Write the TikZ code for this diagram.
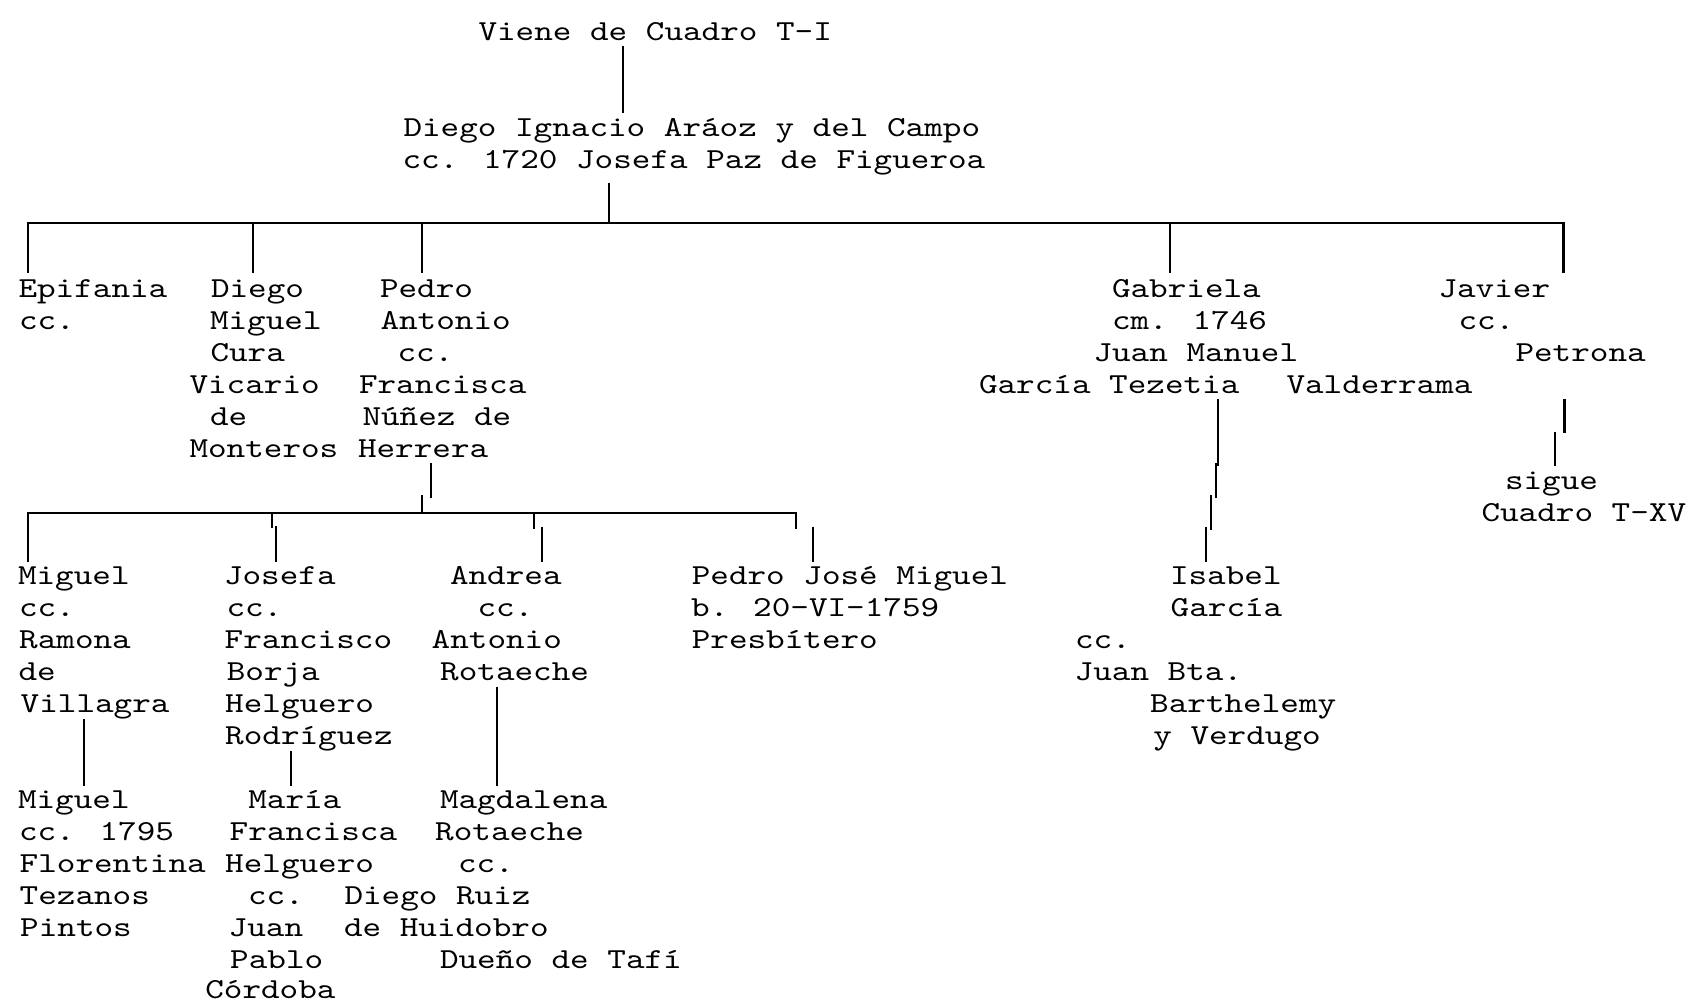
\documentclass[tikz,border=0pt]{standalone}
\usepackage{fontspec}
\newfontfamily\courfont[Extension=.otf, FakeStretch=1.2217]{lmmono10-regular}
\tikzset{
  lbl/.style={anchor=base west, inner sep=0pt, outer sep=0pt, font=\courfont\fontsize{29}{32}\selectfont},
  ln/.style={line width=2.3pt, line cap=butt, line join=miter}
}
\begin{document}
\begin{tikzpicture}[x=1pt,y=-1pt]
\fill[white] (0,0) rectangle (1693,1003);
\useasboundingbox (0,0) rectangle (1693,1003);
% ---------- top ----------
\node[lbl] (viene) at (478.5,40.7) {Viene de Cuadro T-I};
\node[lbl] (dia1) at (403.5,136.7) {Diego Ignacio Aráoz y del Campo};
\node[lbl] (dia2) at (402.5,168.7) {cc. 1720 Josefa Paz de Figueroa};
% ---------- row C ----------
\node[lbl] (epi1) at (18.5,297) {Epifania};
\node[lbl] (epi2) at (19,329) {cc.};
\node[lbl] (dm1) at (211,297) {Diego};
\node[lbl] (dm2) at (210,329) {Miguel};
\node[lbl] (dm3) at (210.5,361) {Cura};
\node[lbl] (dm4) at (189.5,393) {Vicario};
\node[lbl] (dm5) at (210,425) {de};
\node[lbl] (dm6) at (189.5,457) {Monteros};
\node[lbl] (pa1) at (380,297) {Pedro};
\node[lbl] (pa2) at (380.5,329) {Antonio};
\node[lbl] (pa3) at (397.5,361) {cc.};
\node[lbl] (pa4) at (359,393) {Francisca};
\node[lbl] (pa5) at (362.5,425) {Núñez de};
\node[lbl] (pa6) at (358,457) {Herrera};
\node[lbl] (ga1) at (1112,297) {Gabriela};
\node[lbl] (ga2) at (1112,329) {cm. 1746};
\node[lbl] (ga3) at (1093.5,361) {Juan Manuel};
\node[lbl] (ga4) at (979,393) {García Tezetia};
\node[lbl] (ga5) at (1286.5,393) {Valderrama};
\node[lbl] (ja1) at (1438.5,297) {Javier};
\node[lbl] (ja2) at (1458.5,329) {cc.};
\node[lbl] (ja3) at (1515.5,361) {Petrona};
\node[lbl] (sig1) at (1505,489) {sigue};
\node[lbl] (sig2) at (1481.5,521) {Cuadro T-XV};
% ---------- row D ----------
\node[lbl] (mi1) at (18,584) {Miguel};
\node[lbl] (mi2) at (19,616) {cc.};
\node[lbl] (mi3) at (19.2,648) {Ramona};
\node[lbl] (mi4) at (18.5,680) {de};
\node[lbl] (mi5) at (20.7,712) {Villagra};
\node[lbl] (jo1) at (224,584) {Josefa};
\node[lbl] (jo2) at (226.5,616) {cc.};
\node[lbl] (jo3) at (224.7,648) {Francisco};
\node[lbl] (jo4) at (226.8,680) {Borja};
\node[lbl] (jo5) at (225.2,712) {Helguero};
\node[lbl] (jo6) at (225.2,744) {Rodríguez};
\node[lbl] (an1) at (450,584) {Andrea};
\node[lbl] (an2) at (477.5,616) {cc.};
\node[lbl] (an3) at (431.7,648) {Antonio};
\node[lbl] (an4) at (440.2,680) {Rotaeche};
\node[lbl] (pj1) at (691.8,584) {Pedro José Miguel};
\node[lbl] (pj2) at (691.2,616) {b. 20-VI-1759};
\node[lbl] (pj3) at (691.8,648) {Presbítero};
\node[lbl] (is1) at (1170,584) {Isabel};
\node[lbl] (is2) at (1170.7,616) {García};
\node[lbl] (is3) at (1075,648) {cc.};
\node[lbl] (is4) at (1074.7,680) {Juan Bta.};
\node[lbl] (is5) at (1150.2,712) {Barthelemy};
\node[lbl] (is6) at (1153.3,744) {y Verdugo};
% ---------- row E ----------
\node[lbl] (me1) at (18,808) {Miguel};
\node[lbl] (me2) at (19,840) {cc. 1795};
\node[lbl] (me3) at (19.7,872) {Florentina};
\node[lbl] (me4) at (19.7,904) {Tezanos};
\node[lbl] (me5) at (20.2,936) {Pintos};
\node[lbl] (mf1) at (248.3,808) {María};
\node[lbl] (mf2) at (229.7,840) {Francisca};
\node[lbl] (mf3) at (225.2,872) {Helguero};
\node[lbl] (mf4) at (248,904) {cc.};
\node[lbl] (mf5) at (228.7,936) {Juan};
\node[lbl] (mf6) at (230.2,968) {Pablo};
\node[lbl] (mf7) at (205.3,998.3) {Córdoba};
\node[lbl] (mg1) at (440,808) {Magdalena};
\node[lbl] (mg2) at (435.2,840) {Rotaeche};
\node[lbl] (mg3) at (458,872) {cc.};
\node[lbl] (mg4) at (344.5,904) {Diego Ruiz};
\node[lbl] (mg5) at (344,936) {de Huidobro};
\node[lbl] (mg6) at (440,968) {Dueño de Tafí};
% ---------- connector end points ----------
\coordinate (vA) at (622.7,46);    \coordinate (vB) at (622.7,113.3);
\coordinate (pA) at (608.7,182.7); \coordinate (pB) at (608.7,223);
\coordinate (b1L) at (28.3,223);   \coordinate (b1R) at (1563.5,223);
\coordinate (e1) at (28.3,272.7);  \coordinate (e5) at (1563.5,272.7);
\coordinate (d2a) at (253.3,223);  \coordinate (d2b) at (253.3,272.7);
\coordinate (d3a) at (421.7,223);  \coordinate (d3b) at (421.7,272.7);
\coordinate (d4a) at (1170.2,223); \coordinate (d4b) at (1170.2,272.7);
\coordinate (hA) at (431,463);     \coordinate (hB) at (431,498);
\coordinate (hC) at (421.7,495);   \coordinate (hD) at (421.7,513);
\coordinate (b2L) at (28.3,513);   \coordinate (b2R) at (796,513);
\coordinate (f1) at (28.3,561.7);  \coordinate (f4) at (796,529);
\coordinate (jA) at (271.7,513);   \coordinate (jB) at (271.7,528);
\coordinate (jC) at (276,526);     \coordinate (jD) at (276,561.7);
\coordinate (aA) at (534,513);     \coordinate (aB) at (534,529);
\coordinate (aC) at (541.7,526.7); \coordinate (aD) at (541.7,561.7);
\coordinate (qA) at (812.7,526.7); \coordinate (qB) at (812.7,561.7);
\coordinate (g1) at (1218.3,399.3); \coordinate (g2) at (1218.3,466);
\coordinate (g3) at (1215.7,463.3); \coordinate (g4) at (1215.7,497.7);
\coordinate (g5) at (1211,495);     \coordinate (g6) at (1211,530);
\coordinate (g7) at (1206,526.7);   \coordinate (g8) at (1206,562.3);
\coordinate (k1) at (1564.4,399.3); \coordinate (k2) at (1564.4,433.3);
\coordinate (k3) at (1555.2,431.7); \coordinate (k4) at (1555.2,466);
\coordinate (vlA) at (84.3,719.3);  \coordinate (vlB) at (84.3,785.7);
\coordinate (rdA) at (290.7,751);   \coordinate (rdB) at (290.7,785.7);
\coordinate (roA) at (496.7,686.7); \coordinate (roB) at (496.7,785.7);
% ---------- connectors ----------
\draw[ln] (vA) -- (vB);
\draw[ln] (pA) -- (pB);
\draw[ln] (e1) -- (b1L) -- (b1R) -- (e5);
\draw[ln] (d2a) -- (d2b);
\draw[ln] (d3a) -- (d3b);
\draw[ln] (d4a) -- (d4b);
\draw[ln] (hA) -- (hB);
\draw[ln] (hC) -- (hD);
\draw[ln] (f1) -- (b2L) -- (b2R) -- (f4);
\draw[ln] (jA) -- (jB);
\draw[ln] (jC) -- (jD);
\draw[ln] (aA) -- (aB);
\draw[ln] (aC) -- (aD);
\draw[ln] (qA) -- (qB);
\draw[ln] (g1) -- (g2);
\draw[ln] (g3) -- (g4);
\draw[ln] (g5) -- (g6);
\draw[ln] (g7) -- (g8);
\draw[ln] (k1) -- (k2);
\draw[ln] (k3) -- (k4);
\draw[ln] (vlA) -- (vlB);
\draw[ln] (rdA) -- (rdB);
\draw[ln] (roA) -- (roB);
\end{tikzpicture}
\end{document}
